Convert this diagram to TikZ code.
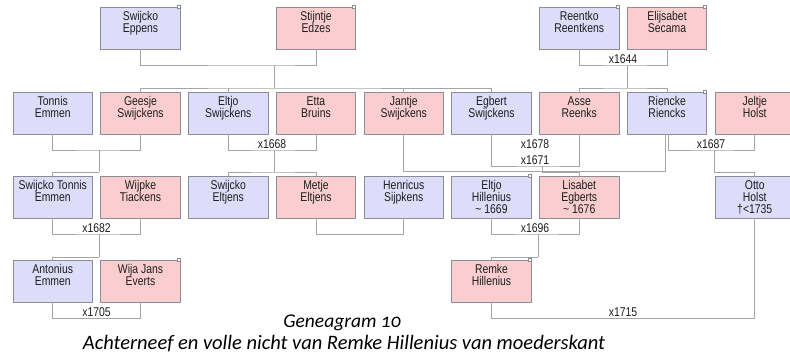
\documentclass[tikz,border=0pt]{standalone}
\usepackage{fontspec}
\newfontfamily\kaartfont{Liberation Sans}[FakeStretch=0.82]
\newfontfamily\onderschriftfont{Carlito}[Numbers=OldStyle]
\definecolor{manblauw}{RGB}{221,221,250}
\definecolor{vrouwroze}{RGB}{250,206,206}
\definecolor{kaartrand}{RGB}{140,140,150}
\definecolor{lijngrijs}{RGB}{165,165,165}
\definecolor{tekstgrijs}{RGB}{30,30,30}
\newcommand\kaart[1]{\parbox[c][42pt][t]{79.5pt}{\centering\rule{0pt}{13.3pt}#1}}
\tikzset{
  persoon/.style={draw=kaartrand, line width=0.8pt, inner sep=0pt, text=tekstgrijs,
    font=\kaartfont\fontsize{12.7}{12.3}\selectfont},
  man/.style={persoon, fill=manblauw},
  vrouw/.style={persoon, fill=vrouwroze},
  lijn/.style={draw=lijngrijs, line width=0.8pt},
  jaar/.style={anchor=south, inner sep=1pt, text=tekstgrijs,
    font=\kaartfont\fontsize{12.7}{12.3}\selectfont},
  hoekje/.style={draw=kaartrand, fill=white, line width=0.5pt}
}
\begin{document}
\begin{tikzpicture}[x=1pt, y=-1pt]
    \useasboundingbox (0,0) rectangle (790,360);
    % generatie 1
    \node [man] (eppens) at (140.5,28) {\kaart{Swijcko\\Eppens}};
    \node [vrouw] (edzes) at (316,28) {\kaart{Stijntje\\Edzes}};
    \node [man] (reentko) at (579.25,28) {\kaart{Reentko\\Reentkens}};
    \node [vrouw] (secama) at (667,28) {\kaart{Elijsabet\\Secama}};
    % generatie 2
    \node [man] (tonnis) at (52.75,113) {\kaart{Tonnis\\Emmen}};
    \node [vrouw] (geesje) at (140.5,113) {\kaart{Geesje\\Swijckens}};
    \node [man] (eltjo) at (228.25,113) {\kaart{Eltjo\\Swijckens}};
    \node [vrouw] (etta) at (316,113) {\kaart{Etta\\Bruins}};
    \node [vrouw] (jantje) at (403.75,113) {\kaart{Jantje\\Swijckens}};
    \node [man] (egbert) at (491.5,113) {\kaart{Egbert\\Swijckens}};
    \node [vrouw] (asse) at (579.25,113) {\kaart{Asse\\Reenks}};
    \node [man] (riencke) at (667,113) {\kaart{Riencke\\Riencks}};
    \node [vrouw] (jeltje) at (754.75,113) {\kaart{Jeltje\\Holst}};
    % generatie 3
    \node [man] (swtonnis) at (52.75,197) {\kaart{Swijcko Tonnis\\Emmen}};
    \node [vrouw] (wijpke) at (140.5,197) {\kaart{Wijpke\\Tiackens}};
    \node [man] (sweltjens) at (228.25,197) {\kaart{Swijcko\\Eltjens}};
    \node [vrouw] (metje) at (316,197) {\kaart{Metje\\Eltjens}};
    \node [man] (henricus) at (403.75,197) {\kaart{Henricus\\Sijpkens}};
    \node [man] (eltjoh) at (491.5,197) {\kaart{Eltjo\\Hillenius\\\char`\~\ 1669}};
    \node [vrouw] (lisabet) at (579.25,197) {\kaart{Lisabet\\Egberts\\\char`\~\ 1676}};
    \node [man] (otto) at (754.75,197) {\kaart{Otto\\Holst\\†<1735}};
    % generatie 4
    \node [man] (antonius) at (52.75,281) {\kaart{Antonius\\Emmen}};
    \node [vrouw] (wija) at (140.5,281) {\kaart{Wija Jans\\Everts}};
    \node [vrouw] (remke) at (491.5,281) {\kaart{Remke\\Hillenius}};
    \foreach \n in {eppens,edzes,reentko,secama,riencke,eltjoh,wija,remke}
      \draw [hoekje] ([shift={(-3.5,1.5)}]\n.north east) rectangle ++(3,-3);
    % knopen
    \coordinate (h1) at (274,65);
    \coordinate (k1) at (274,88);
    \coordinate (h1644) at (627,65);
    \coordinate (k1644) at (627,88);
    \coordinate (h2) at (99,150);
    \coordinate (k2) at (99,172);
    \coordinate (h1668) at (274,150);
    \coordinate (k1668) at (274,172);
    \coordinate (h1671) at (542,166);
    \coordinate (k1671) at (542,172);
    \coordinate (h1687) at (714,150);
    \coordinate (k1687) at (714,172);
    \coordinate (h1682) at (99,234);
    \coordinate (k1682) at (99,257);
    \coordinate (h1696) at (538,234);
    \coordinate (k1696) at (538,257);
    % huwelijken en kinderen
    \draw [lijn] (eppens.south) |- (h1) -| (edzes.south);
    \draw [lijn] (h1) -- (k1);
    \draw [lijn] (geesje.north) |- (k1) -| (egbert.north);
    \draw [lijn] (eltjo.north) -- (eltjo.north |- k1);
    \draw [lijn] (jantje.north) -- (jantje.north |- k1);
    \draw [lijn] (reentko.south) |- (h1644) -| (secama.south);
    \draw [lijn] (h1644) -- (k1644);
    \draw [lijn] (asse.north) |- (k1644) -| (riencke.north);
    \draw [lijn] (tonnis.south) |- (h2) -| (geesje.south);
    \draw [lijn] (h2) -- (k2);
    \draw [lijn] (swtonnis.north) |- (k2);
    \draw [lijn] (eltjo.south) |- (h1668) -| (etta.south);
    \draw [lijn] (h1668) -- (k1668);
    \draw [lijn] (sweltjens.north) |- (k1668) -| (metje.north);
    \draw [lijn] (jantje.south) -- ++(0,37) -| ([xshift=-1.5pt]riencke.south);
    \draw [lijn] (egbert.south) |- (h1671) -| (asse.south);
    \draw [lijn] (h1671) -- (k1671) -| (lisabet.north);
    \draw [lijn] ([xshift=1.5pt]riencke.south) |- (h1687) -| (jeltje.south);
    \draw [lijn] (h1687) -- (k1687) -| (otto.north);
    \draw [lijn] (swtonnis.south) |- (h1682) -| (wijpke.south);
    \draw [lijn] (h1682) -- (k1682);
    \draw [lijn] (antonius.north) |- (k1682);
    \draw [lijn] (metje.south) -- ++(0,16) -| (henricus.south);
    \draw [lijn] (eltjoh.south) |- (h1696) -| (lisabet.south);
    \draw [lijn] (h1696) -- (k1696);
    \draw [lijn] (remke.north) |- (k1696);
    \draw [lijn] (antonius.south) -- ++(0,16) -| (wija.south);
    \draw [lijn] (remke.south) -- ++(0,16) -| (otto.south);
    % jaartallen
    \node [jaar] (j1644) at (623,65) {x1644};
    \node [jaar] (j1668) at (272,150) {x1668};
    \node [jaar] (j1678) at (535,150) {x1678};
    \node [jaar] (j1671) at (535,166) {x1671};
    \node [jaar] (j1687) at (711,150) {x1687};
    \node [jaar] (j1682) at (96.5,234) {x1682};
    \node [jaar] (j1696) at (535,234) {x1696};
    \node [jaar] (j1705) at (96.5,318) {x1705};
    \node [jaar] (j1715) at (623,318) {x1715};
    % onderschrift
    \node [anchor=base, inner sep=0pt, text=black, font=\onderschriftfont\itshape\fontsize{19.5}{21}\selectfont]
      (titel) at (342,327) {Geneagram 10};
    \node [anchor=base, inner sep=0pt, text=black, font=\onderschriftfont\itshape\fontsize{20.5}{22}\selectfont]
      (ondertitel) at (344,349) {Achterneef en volle nicht van Remke Hillenius van moederskant};
\end{tikzpicture}
\end{document}
